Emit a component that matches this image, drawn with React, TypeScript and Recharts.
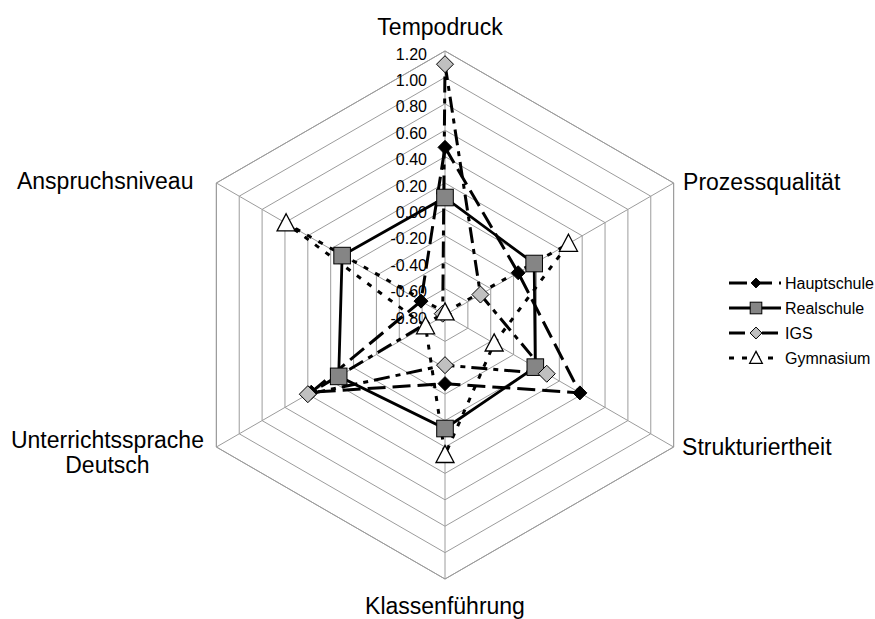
import { RadarChart, Radar, PolarGrid, PolarAngleAxis, PolarRadiusAxis, Legend } from 'recharts'

const categories = [
  'Tempodruck',
  'Prozessqualität',
  'Strukturiertheit',
  'Klassenführung',
  'Unterrichtssprache Deutsch',
  'Anspruchsniveau',
]
const hauptschule = [0.47, -0.16, 0.38, -0.28, 0.37, -0.59]
const realschule = [0.09, -0.02, -0.01, 0.06, 0.13, 0.1]
const igs = [1.1, -0.49, 0.09, -0.42, 0.4, -0.78]
const gymnasium = [-0.78, 0.28, -0.37, 0.26, -0.63, 0.59]
const radiusTicks = [-0.8, -0.6, -0.4, -0.2, 0, 0.2, 0.4, 0.6, 0.8, 1.0, 1.2]

const CX = 445
const CY = 315
const R = 264
const FONT = '"Liberation Sans", Arial, Helvetica, sans-serif'
const GRID = '#9c9c9c'

const chartData = categories.map((axis, i) => ({
  axis,
  Hauptschule: hauptschule[i],
  Realschule: realschule[i],
  IGS: igs[i],
  Gymnasium: gymnasium[i],
}))

const diamondPath = (cx: number, cy: number, s: number) =>
  `M${cx},${cy - s}L${cx + s},${cy}L${cx},${cy + s}L${cx - s},${cy}Z`

const trianglePath = (cx: number, cy: number, s: number) =>
  `M${cx},${cy - s}L${cx + s * 0.95},${cy + s * 0.8}L${cx - s * 0.95},${cy + s * 0.8}Z`

type MarkerKind = 'blackDiamond' | 'square' | 'greyDiamond' | 'triangle'

function Marker({ kind, cx, cy, scale = 1 }: { kind: MarkerKind; cx: number; cy: number; scale?: number }) {
  if (kind === 'blackDiamond')
    return <path d={diamondPath(cx, cy, 7 * scale)} fill="#000" stroke="#000" strokeWidth={1} />
  if (kind === 'square') {
    const s = 8.3 * scale
    return <rect x={cx - s} y={cy - s} width={s * 2} height={s * 2} fill="#858585" stroke="#000" strokeWidth={1} />
  }
  if (kind === 'greyDiamond')
    return <path d={diamondPath(cx, cy, 8.5 * scale)} fill="#c0c0c0" stroke="#000" strokeWidth={1} />
  return <path d={trianglePath(cx, cy, 9.5 * scale)} fill="#fff" stroke="#000" strokeWidth={1.3} />
}

const series: { key: string; dash?: string; width: number; marker: MarkerKind }[] = [
  { key: 'Hauptschule', dash: '18 7', width: 3, marker: 'blackDiamond' },
  { key: 'Realschule', width: 2.8, marker: 'square' },
  { key: 'IGS', dash: '16 6 5 6', width: 3, marker: 'greyDiamond' },
  { key: 'Gymnasium', dash: '5 8', width: 3, marker: 'triangle' },
]

const angleLabelPos = [
  { dx: -5, dy: -8, anchor: 'middle' },
  { dx: 2.5, dy: 11, anchor: 'start' },
  { dx: 1.5, dy: 4, anchor: 'start' },
  { dx: 0, dy: 27, anchor: 'middle' },
  { dx: -102, dy: -3, anchor: 'middle' },
  { dx: -16, dy: 10, anchor: 'end' },
]

function AngleTick(props: any) {
  const { x, y, payload, index } = props
  const pos = angleLabelPos[index] ?? { dx: 0, dy: 0, anchor: 'middle' }
  const lines = String(payload.value).split(' ')
  return (
    <text
      x={x + pos.dx}
      y={y + pos.dy}
      textAnchor={pos.anchor}
      fontFamily={FONT}
      fontSize={23}
      fill="#000"
    >
      {lines.map((l, i) => (
        <tspan key={l} x={x + pos.dx} dy={i === 0 ? 0 : 25}>
          {l}
        </tspan>
      ))}
    </text>
  )
}

function RadiusTick(props: any) {
  const { x, y, payload } = props
  const v = Math.abs(payload.value) < 1e-9 ? 0 : payload.value
  return (
    <text x={x - 18} y={y + 8.5} textAnchor="end" fontFamily={FONT} fontSize={16} fill="#000">
      {v.toFixed(2)}
    </text>
  )
}

function LegendBox() {
  return (
    <svg width={150} height={100}>
      {series.map((s, i) => {
        const y = 13 + i * 25
        return (
          <g key={s.key}>
            <line x1={4} x2={56} y1={y} y2={y} stroke="#000" strokeWidth={s.width} strokeDasharray={s.dash} />
            <Marker kind={s.marker} cx={31} cy={y} scale={0.7} />
            <text x={60} y={y + 5.5} fontFamily={FONT} fontSize={16} fill="#000">
              {s.key}
            </text>
          </g>
        )
      })}
    </svg>
  )
}

export default function App() {
  return (
    <div style={{ position: 'absolute', left: 0, top: 0, width: 875, height: 619, background: '#fff' }}>
      <RadarChart
        width={875}
        height={619}
        data={chartData}
        cx={CX}
        cy={CY}
        outerRadius={R}
        margin={{ top: 0, right: 0, bottom: 0, left: 0 }}
      >
        <PolarGrid gridType="polygon" stroke={GRID} strokeWidth={1} />
        <PolarAngleAxis
          dataKey="axis"
          tick={AngleTick}
          tickLine={false}
          axisLine={{ stroke: GRID }}
          axisLineType="polygon"
        />
        <PolarRadiusAxis
          angle={90}
          type="number"
          domain={[radiusTicks[0], radiusTicks[radiusTicks.length - 1]]}
          allowDataOverflow
          allowDecimals
          tickCount={radiusTicks.length}
          tick={RadiusTick}
          axisLine={false}
          tickLine={false}
        />
        {series.map(s => (
          <Radar
            key={s.key}
            name={s.key}
            dataKey={s.key}
            stroke="#000"
            strokeWidth={s.width}
            strokeDasharray={s.dash}
            fill="none"
            fillOpacity={0}
            isAnimationActive={false}
            dot={(p: any) => <Marker key={`${s.key}-${p.index}`} kind={s.marker} cx={p.cx} cy={p.cy} />}
          />
        ))}
        <Legend
          content={() => <LegendBox />}
          wrapperStyle={{ position: 'absolute', left: 725, top: 270, width: 150, height: 100 }}
        />
      </RadarChart>
    </div>
  )
}
